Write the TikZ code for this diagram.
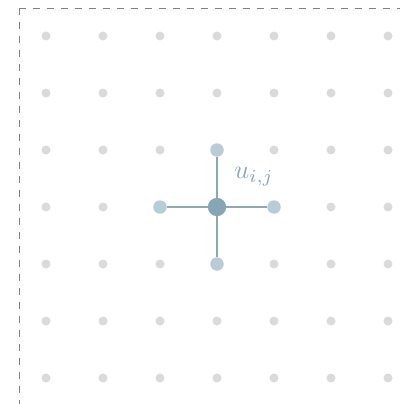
\documentclass[tikz,border=0pt]{standalone}
\usepackage{amsmath}
\usepackage{xcolor}
\usepackage{tikz}
\usetikzlibrary{positioning}

\definecolor{gridgray}{HTML}{DADADA}
\definecolor{nbblue}{HTML}{B8CCD6}
\definecolor{ctrblue}{HTML}{86A5B5}
\definecolor{linkblue}{HTML}{8AA8B8}

\begin{document}
\begin{tikzpicture}[
  x=1pt, y=-1pt,
  pt/.style={circle, fill=gridgray, inner sep=0pt, minimum size=9pt},
  nbr/.style={circle, fill=nbblue, inner sep=0pt, minimum size=13.5pt},
  ctr/.style={circle, fill=ctrblue, inner sep=0pt, minimum size=18pt},
  link/.style={draw=linkblue, line width=2.3pt},
  frame/.style={draw=gray, dashed, line width=0.9pt, dash pattern=on 7pt off 7pt}
]
\useasboundingbox (0,0) rectangle (400,404);
% boundary of the domain
\coordinate (tl) at (19,8);
\coordinate (tr) at (400,8);
\coordinate (bl) at (19,404);
\draw[frame] (tl) -- (tr);
\draw[frame] (tl) -- (bl);

% grid points
\foreach \i in {0,...,6}{
  \foreach \j in {0,...,6}{
    \node[pt] (d-\i-\j) at ({46+57*\i},{36+57*\j}) {};
  }
}

% stencil around u_{i,j}
\node[ctr] (c) at (d-3-3) {};
\node[nbr] (n) at (d-3-2) {};
\node[nbr] (s) at (d-3-4) {};
\node[nbr] (w) at (d-2-3) {};
\node[nbr] (e) at (d-4-3) {};
\draw[link] (c) -- (n);
\draw[link] (c) -- (s);
\draw[link] (c) -- (w);
\draw[link] (c) -- (e);
\node[ctr] at (c) {};
\node[text=linkblue, scale=2.6, transform shape] (lbl) at (254,177) {$u_{i,j}$};
\end{tikzpicture}
\end{document}
